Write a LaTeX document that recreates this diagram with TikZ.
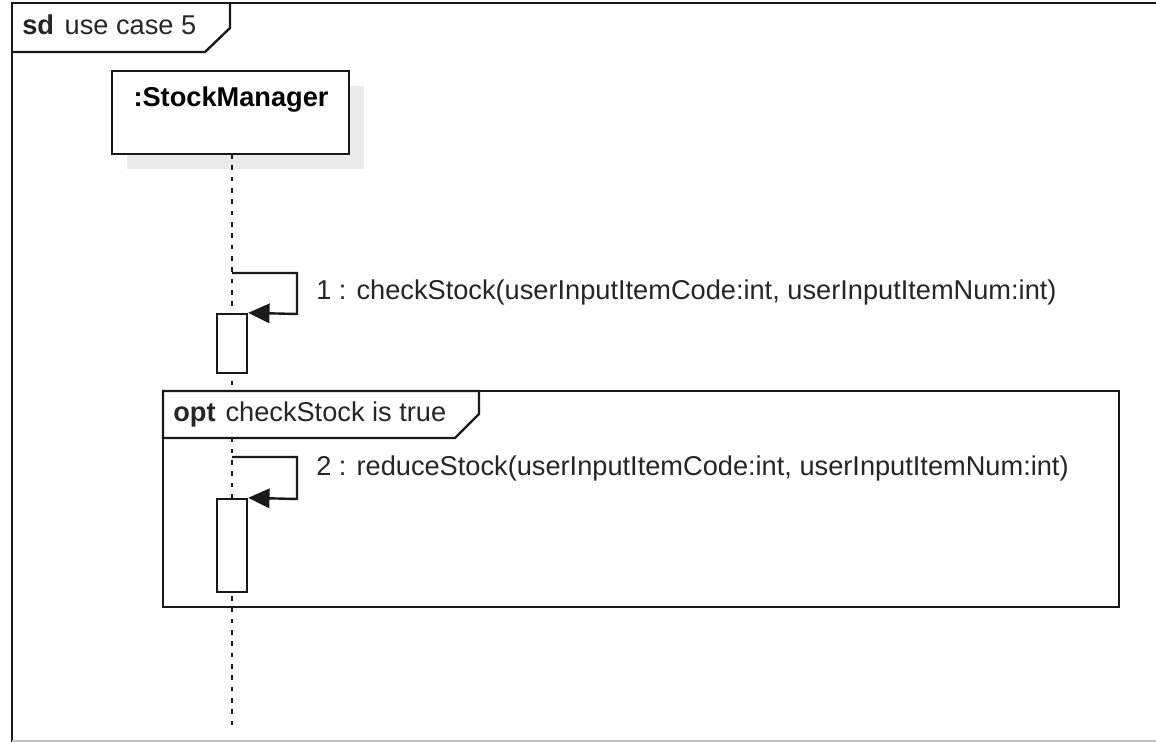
\documentclass[tikz,border=0pt]{standalone}
\usepackage{fontspec}
\setmainfont{Liberation Sans}
\usetikzlibrary{arrows.meta}
\begin{document}
\begin{tikzpicture}[x=0.75pt,y=-0.75pt,
  every node/.style={font=\fontsize{20.4}{24}\selectfont, inner sep=0pt},
  ln/.style={line width=1.8pt, draw=black!90},
  lifebox/.style={ln, fill=white, minimum width=177.75pt, minimum height=62.25pt},
  shadowbox/.style={fill=black!8, draw=none, minimum width=177.75pt, minimum height=62.25pt},
  actbox/.style={ln, fill=white, minimum width=22.5pt},
  lifeline/.style={line width=1.8pt, draw=black!90, dash pattern=on 3.5pt off 5pt},
  msg/.style={ln, -{Triangle[length=16pt,width=14.5pt]}},
  lbl/.style={anchor=base west, text=black!85},
]
\useasboundingbox (0,0) rectangle (1156,742);
\fill[white] (0,0) rectangle (1156,742);

% outer sd frame
\draw[ln] (12,742) -- (12,3) -- (1156,3);
\draw[black!25, line width=1pt] (12,741) -- (1156,741);
\draw[ln] (12,52) -- (205,52) -- (230,28) -- (230,3);
\node[lbl] (sdlabel) at (22,35) {\textbf{sd}\hspace{8pt}use case 5};

% lifeline head
\node[shadowbox] (smshadow) at (245.5,127.5) {};
\node[lifebox] (sm) at (230.5,112.5) {};
\node[font=\fontsize{20.4}{24}\selectfont\bfseries, anchor=base] (smlabel) at (231,107) {:StockManager};

% lifeline
\coordinate (llend) at (232,726);
\draw[lifeline] (232,154) -- (llend);

% message 1
\node[actbox, minimum height=44.25pt] (act1) at (232,343.5) {};
\coordinate (m1s) at (232,273);
\coordinate (m1a) at (297,273);
\coordinate (m1b) at (297,314);
\draw[msg] (m1s) -- (m1a) -- (m1b) -- (act1.north east);
\node[lbl] (m1label) at (316,299) {1 : checkStock(userInputItemCode:int, userInputItemNum:int)};

% opt fragment
\draw[ln] (163,391) rectangle (1119,607);
\draw[ln, fill=white] (163,391) -- (479,391) -- (479,414) -- (455,438) -- (163,438) -- cycle;
\node[lbl] (optlabel) at (173,421) {\textbf{opt}\hspace{7.5pt}checkStock is true};

% message 2
\node[actbox, minimum height=69.75pt] (act2) at (232,545.5) {};
\coordinate (m2s) at (232,457);
\coordinate (m2a) at (297,457);
\coordinate (m2b) at (297,499);
\draw[msg] (m2s) -- (m2a) -- (m2b) -- (act2.north east);
\node[lbl] (m2label) at (316,475) {2 : reduceStock(userInputItemCode:int, userInputItemNum:int)};
\end{tikzpicture}
\end{document}
